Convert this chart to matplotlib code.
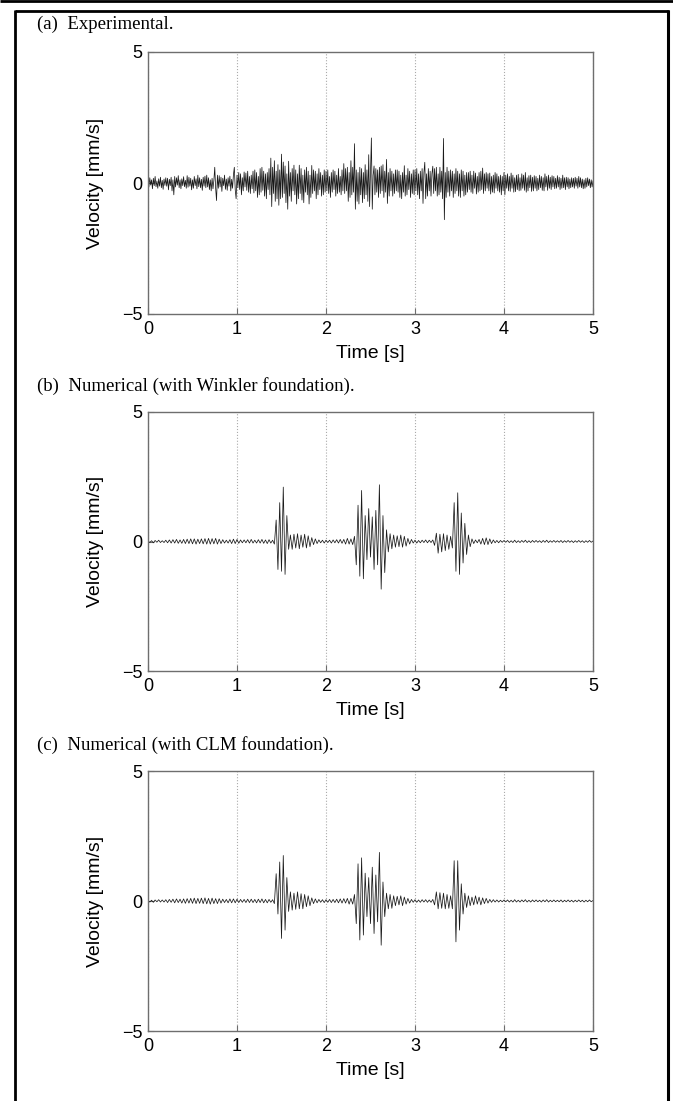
import matplotlib.pyplot as plt
from matplotlib.lines import Line2D
import numpy as np

# experimental velocity (hundredths of mm/s), one value every 0.01 s from 0 to 5 s
vel_exp = [
    5, -15, 20, -8, 12, -22, 18, -10, 25, -14, 8, -20, 16, -12, 22, -18, 10, -24, 15, -9,
    20, -12, 18, -26, 14, -10, 22, -30, 12, -45, 25, -15, 20, -8, 28, -18, 12, -22, 16, -10,
    24, -14, 10, -20, 28, -16, 22, -12, 18, -26, 12, -20, 25, -10, 16, -22, 30, -14, 20, -18,
    14, -28, 22, -12, 26, -18, 30, -15, 20, -25, 12, -30, 18, -22, 10, 60, -20, -67, 30, -20,
    28, -15, 22, -32, 18, -10, 30, -24, 15, -28, 20, -12, 26, -30, 14, -20, 32, 60, -25, -60,
    30, -18, 40, -25, 35, -45, 20, -30, 42, -15, 38, -28, 45, -35, 25, -40, 30, -22, 45, -38,
    50, -30, 40, -55, 25, -45, 55, -35, 60, -28, 45, -50, 35, -60, 40, -25, 55, -45, 95, -90,
    60, -40, 85, -70, 45, -60, 70, -85, 50, -60, 110, -55, 80, -40, 65, -75, 35, -100, 83, -50,
    40, -70, 55, -30, 68, -45, 50, -80, 35, -60, 68, -40, 55, -65, 30, -75, 50, -35, 60, -45,
    45, -80, 30, -55, 67, -40, 50, -30, 45, -60, 35, -45, 55, -25, 40, -50, 30, -45, 50, -35,
    45, -30, 50, -40, 25, -55, 40, -35, 50, -25, 45, -50, 30, -40, 55, -35, 25, -45, 50, -30,
    74, -40, 55, -30, 60, -70, 40, -55, 85, -45, 60, -35, 150, -100, 50, -70, 40, -80, 60, -45,
    55, -75, 40, -60, 70, -45, 50, -70, 108, -90, 40, 172, -100, 30, 65, -45, 55, -35, 50, -55,
    60, -40, 65, -30, 70, -55, 45, -35, 90, -78, 40, -50, 55, -30, 45, -50, 35, -40, 50, -30,
    50, -35, 45, -55, 30, -60, 40, -35, 66, -50, 30, -45, 55, -25, 45, -55, 35, -40, 50, -45,
    50, -30, 55, -45, 35, -60, 45, -30, 55, -78, 40, 79, -60, 35, -50, 55, -30, 45, -50, 35,
    64, -40, 55, -30, 60, -50, 35, -45, 60, -35, 45, -60, 170, -140, 40, -55, 60, -35, 45, -50,
    50, -30, 45, -55, 35, -40, 55, -30, 45, -50, 35, -55, 50, -30, 45, -50, 30, -45, 40, -35,
    40, -25, 45, -35, 30, -40, 45, -20, 38, -42, 25, -35, 40, -30, 45, -25, 57, -40, 35, -30,
    40, -20, 35, -30, 38, -42, 25, -35, 30, -38, 40, -20, 35, -30, 25, -35, 30, -45, 25, -30,
    40, -45, 30, -20, 35, -30, 25, -32, 38, -20, 30, -35, 20, -33, 30, -25, 33, -30, 20, -28,
    35, -20, 30, -28, 40, -35, 20, -30, 28, -18, 30, -32, 22, -30, 28, -20, 25, -30, 18, -25,
    30, -18, 25, -28, 20, -30, 35, -15, 25, -28, 30, -20, 22, -25, 28, -15, 25, -22, 18, -20,
    28, -15, 22, -25, 18, -20, 30, -18, 20, -25, 22, -15, 20, -22, 15, -18, 20, -15, 18, -20,
    22, -12, 18, -20, 25, -15, 20, -18, 15, -22, 12, -20, 18, -15, 20, -10, 15, -18, 12, -15,
    8,
]

# numerical velocities (hundredths of mm/s), one value every 0.02 s from 0 to 5 s
vel_winkler = [
    3, -4, 3, -5, 4, -3, 5, -4, 3, -4,
    5, -5, 6, -6, 7, -6, 8, -7, 6, -7,
    8, -8, 9, -8, 10, -9, 10, -10, 9, -8,
    10, -9, 11, -10, 12, -10, 11, -9, 12, -10,
    9, -8, 7, -6, 5, -6, 7, -8, 9, -8,
    8, -7, 6, -5, 6, -5, 7, -6, 8, -6,
    5, -6, 7, -6, 8, -7, 6, -8, 7, -6,
    5, -10, 83, -108, 150, -115, 210, -127, 100, -30,
    25, -30, 28, -25, 30, -28, 25, -22, 28, -25,
    22, -20, 15, -12, 10, -8, 6, -5, 5, -6,
    5, -4, 5, -6, 6, -5, 7, -6, 8, -7,
    8, -10, 12, -10, 10, -12, 20, -90, 140, -134,
    197, -144, 100, -70, 127, -60, 95, -108, 120, -90,
    219, -184, 100, -120, 45, -40, 30, -28, 25, -22,
    22, -20, 25, -22, 20, -18, 12, -10, 8, -6,
    5, -6, 4, -5, 5, -4, 6, -5, 5, -4,
    6, -15, 32, -45, 28, -40, 30, -35, 25, -30,
    20, -25, 150, -115, 188, -127, 110, -83, 70, -50,
    25, -20, 10, -8, 6, -5, 8, -10, 12, -12,
    14, -12, 10, -8, 6, -5, 4, -5, 4, -3,
    4, -3, 4, -4, 3, -4, 5, -4, 3, -4,
    4, -3, 5, -4, 3, -4, 4, -3, 4, -3,
    3, -4, 4, -3, 5, -4, 3, -3, 4, -3,
    3, -3, 4, -4, 3, -3, 4, -3, 3, -4,
    3, -3, 4, -3, 3, -4, 3, -3, 4, -3, 2,
]

vel_clm = [
    3, -4, 3, -5, 4, -3, 5, -4, 4, -4,
    5, -6, 6, -5, 7, -7, 8, -6, 7, -8,
    8, -9, 9, -8, 10, -9, 11, -10, 10, -9,
    11, -10, 12, -11, 10, -12, 11, -10, 9, -10,
    9, -8, 7, -6, 6, -7, 8, -7, 8, -7,
    7, -6, 6, -5, 6, -6, 7, -6, 7, -6,
    6, -7, 7, -6, 8, -7, 6, -7, 6, -5,
    5, -10, 105, -50, 150, -144, 175, -112, 90, -40,
    35, -35, 30, -32, 35, -30, 28, -30, 25, -22,
    20, -18, 12, -10, 8, -7, 6, -5, 5, -6,
    5, -5, 6, -6, 6, -6, 7, -7, 8, -8,
    9, -8, 10, -12, 10, -12, 25, -87, 143, -150,
    166, -131, 107, -60, 90, -87, 130, -125, 100, -80,
    187, -170, 73, -60, 30, -30, 25, -28, 20, -18,
    18, -15, 20, -18, 15, -12, 10, -8, 6, -5,
    5, -5, 4, -5, 5, -4, 5, -5, 4, -5,
    6, -15, 35, -30, 32, -28, 30, -30, 25, -28,
    20, -30, 155, -157, 155, -112, 66, -50, 30, -25,
    20, -18, 15, -15, 20, -12, 15, -15, 12, -10,
    10, -8, 6, -5, 5, -4, 4, -4, 3, -3,
    4, -3, 4, -4, 3, -4, 5, -4, 3, -4,
    4, -3, 5, -4, 3, -4, 4, -3, 4, -3,
    3, -4, 4, -3, 5, -4, 3, -3, 4, -3,
    3, -3, 4, -4, 3, -3, 4, -3, 3, -4,
    3, -3, 4, -3, 3, -4, 3, -3, 4, -3, 2,
]

titles = ["(a)  Experimental.",
          "(b)  Numerical (with Winkler foundation).",
          "(c)  Numerical (with CLM foundation)."]
signals = [vel_exp, vel_winkler, vel_clm]
xticks = [0, 1, 2, 3, 4, 5]
yticks = [-5, 0, 5]

W, H = 673, 1101
fig = plt.figure(figsize=(W / 100, H / 100), dpi=100)

# axes boxes in pixels: (left, top, right, bottom)
boxes = [(148, 52, 593, 314), (148, 412, 593, 671), (148, 771, 593, 1031)]
title_y = [24, 386, 745]

sans = 'Liberation Sans'
grey = '#6e6e6e'

for box, ty, sig, title in zip(boxes, title_y, signals, titles):
    l, t, r, b = box
    ax = fig.add_axes([l / W, 1 - b / H, (r - l) / W, (b - t) / H])
    v = np.array(sig) / 100.0
    tm = np.linspace(0, 5, len(v))
    ax.plot(tm, v, color='#1a1a1a', lw=0.55)
    ax.set_xlim(0, 5)
    ax.set_ylim(-5, 5)
    ax.set_xticks(xticks)
    ax.set_yticks(yticks)
    ax.xaxis.grid(True, linestyle=':', color='#aaaaaa', lw=0.8)
    ax.tick_params(direction='in', length=4, color=grey, labelsize=13)
    ax.tick_params(axis='x', pad=5)
    ax.tick_params(axis='y', pad=4)
    for lab in ax.get_xticklabels() + ax.get_yticklabels():
        lab.set_family(sans)
    for s in ax.spines.values():
        s.set_color(grey)
        s.set_linewidth(1.0)
    ax.set_xlabel("Time [s]", fontsize=14, family=sans)
    ax.set_ylabel("Velocity [mm/s]", fontsize=14, family=sans)
    ax.xaxis.set_label_coords(0.5, -0.118)
    ax.yaxis.set_label_coords(-0.098, 0.5)
    fig.text(37 / W, 1 - ty / H, title, family='Liberation Serif',
             fontsize=13.5, va='center', ha='left')

# page frame
def fline(x, y, lw):
    fig.add_artist(Line2D([xx / W for xx in x], [1 - yy / H for yy in y],
                          color='k', lw=lw, transform=fig.transFigure,
                          solid_capstyle='butt'))

fline([0, W], [1.3, 1.3], 2.0)
fline([14.5, 668.5], [11, 11], 2.0)
fline([14.5, 14.5], [10, H], 2.0)
fline([668, 668], [10, H], 2.2)

fig.savefig("out.png", dpi=100)
